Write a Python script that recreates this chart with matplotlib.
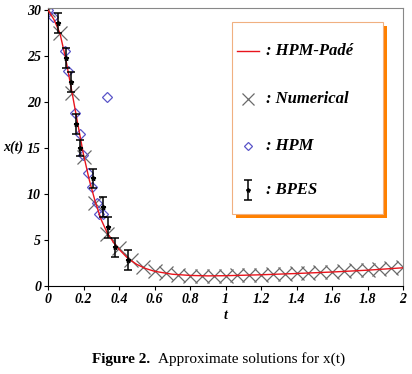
#!/usr/bin/env python
# coding=utf-8
"""
Soluciones aproximadas para x(t)
"""

import matplotlib
matplotlib.use("Agg")
import matplotlib.pyplot as plt
from matplotlib.patches import Rectangle
from matplotlib.lines import Line2D
import numpy as np

# Curva HPM-Pade
t_pade = [0.0, 0.033, 0.067, 0.1, 0.133, 0.167, 0.2, 0.233, 0.267, 0.3, 0.333, 0.367, 0.4,
          0.45, 0.5, 0.55, 0.6, 0.7, 0.8, 0.9, 1.0, 1.2, 1.4, 1.6, 1.8, 2.0]
x_pade = [30.0, 29.0, 27.5, 24.7, 21.3, 17.7, 14.3, 11.5, 9.1, 7.2, 5.8, 4.8, 4.0,
          3.0, 2.35, 1.9, 1.6, 1.28, 1.15, 1.1, 1.12, 1.22, 1.36, 1.52, 1.72, 1.98]

# Numerico
t_num = [k / 15.0 for k in range(31)]
x_num = [30.0, 27.5, 21.0, 14.0, 9.0, 5.7, 4.1, 2.8, 2.05, 1.65, 1.38, 1.22, 1.14, 1.1, 1.1,
         1.12, 1.15, 1.19, 1.23, 1.28, 1.33, 1.38, 1.43, 1.49, 1.55, 1.62, 1.69, 1.76, 1.84,
         1.92, 2.02]

# HPM
t_hpm = [0.0, 0.03, 0.096, 0.113, 0.152, 0.18, 0.197, 0.226, 0.248, 0.275, 0.29, 0.31, 0.33]
x_hpm = [30.0, 29.2, 25.6, 23.4, 18.8, 16.5, 14.2, 12.3, 10.8, 9.0, 7.8, 7.8, 20.6]

# BPES (centro y error)
t_bpes = [0.056, 0.1, 0.13, 0.16, 0.18, 0.254, 0.31, 0.34, 0.38, 0.45]
x_bpes = [28.6, 24.8, 22.2, 17.6, 15.0, 11.7, 8.6, 6.4, 4.2, 2.8]
e_bpes = [1.1, 1.05, 1.1, 1.1, 0.9, 1.05, 1.1, 1.15, 1.05, 1.1]

ticks_x = np.arange(0, 2.01, 0.2)
ticks_y = [0, 5, 10, 15, 20, 25, 30]

fuente = {'family': 'Liberation Serif', 'weight': 'bold', 'style': 'italic'}

fig = plt.figure(figsize=(4.12, 3.74), dpi=100)
ax = fig.add_axes([0.1165, 0.2353, 0.8617, 0.7425])

ax.plot(t_pade, x_pade, color='#e8141c', lw=1.0, zorder=3)
ax.plot(t_num, x_num, linestyle='none', marker='x', ms=10, mew=0.9, color='#6a6a6a', zorder=2)
ax.plot(t_hpm, x_hpm, linestyle='none', marker='D', ms=5, mfc='none', mew=0.9,
        color='#5a55c8', zorder=2)
ax.errorbar(t_bpes, x_bpes, yerr=e_bpes, fmt='*', ms=3.5, color='black', ecolor='black',
            elinewidth=1.1, capsize=3, capthick=1.1, zorder=4)

ax.set_xlim(0, 2)
ax.set_ylim(0, 30.2)
ax.set_xticks(ticks_x)
ax.set_xticklabels(['0', '0.2', '0.4', '0.6', '0.8', '1', '1.2', '1.4', '1.6', '1.8', '2'])
ax.set_yticks(ticks_y)
for lab in ax.get_xticklabels() + ax.get_yticklabels():
    lab.set_fontfamily('Liberation Serif')
    lab.set_fontweight('bold')
    lab.set_fontstyle('italic')
    lab.set_fontsize(10)
ax.tick_params(length=3, width=0.8, pad=2)
ax.spines['top'].set_color('#888888')
ax.spines['right'].set_color('#888888')

ax.text(0.5, -0.107, 't', transform=ax.transAxes, ha='center', va='center', fontsize=10, **fuente)
fig.text(13 / 412, 1 - 147 / 374, 'x(t)', ha='center', va='center', fontsize=10, **fuente)

# leyenda manual con sombra naranja
x0, y0 = (232 - 48) / 355.0, (286 - 214) / 278.0
w, h = (383 - 232) / 355.0, (214 - 22) / 278.0
sombra = Rectangle((x0 + 4 / 355.0, y0 - 4 / 278.0), w, h, transform=ax.transAxes,
                   facecolor='#ff8000', edgecolor='none', zorder=5)
caja = Rectangle((x0, y0), w, h, transform=ax.transAxes, facecolor='white',
                 edgecolor='#f0b080', lw=0.8, zorder=6)
ax.add_patch(sombra)
ax.add_patch(caja)

filas = [51, 99, 146, 190]
textos = [': HPM-Padé', ': Numerical', ': HPM', ': BPES']
mx = (248 - 48) / 355.0
for i, yy in enumerate(filas):
    fy = (286 - yy) / 278.0
    if i == 0:
        ax.add_line(Line2D([mx - 0.03, mx + 0.03], [fy, fy], transform=ax.transAxes,
                           color='#e8141c', lw=1.0, zorder=7))
    elif i == 1:
        ax.add_line(Line2D([mx], [fy], transform=ax.transAxes, marker='x', ms=8, mew=0.9,
                           color='#6a6a6a', zorder=7))
    elif i == 2:
        ax.add_line(Line2D([mx], [fy], transform=ax.transAxes, marker='D', ms=4.5, mfc='none',
                           mew=0.9, color='#5a55c8', zorder=7))
    else:
        ax.errorbar([mx], [fy], yerr=[0.035], fmt='*', ms=3, color='black', capsize=3,
                    elinewidth=1.1, capthick=1.1, transform=ax.transAxes, zorder=7)
    ax.text((266 - 48) / 355.0, fy, textos[i], transform=ax.transAxes, ha='left', va='center',
            fontsize=12, zorder=8, **fuente)

# pie de figura
fig.text(92 / 412, 1 - 359 / 374, 'Figure 2.', ha='left', va='center', fontsize=11,
         family='Liberation Serif', weight='bold')
fig.text(158 / 412, 1 - 359 / 374, 'Approximate solutions for x(t)', ha='left', va='center',
         fontsize=11, family='Liberation Serif')

fig.savefig('out.png', dpi=100)
